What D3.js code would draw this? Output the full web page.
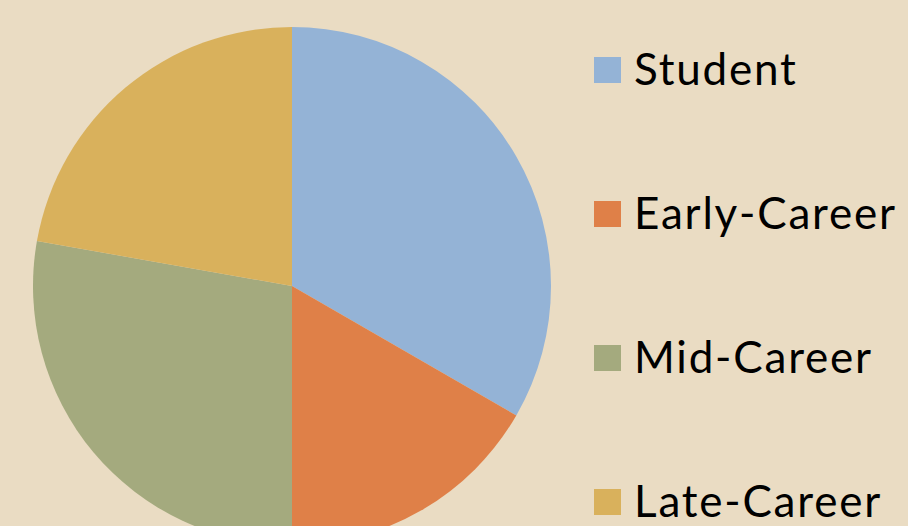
<!DOCTYPE html>
<html>
<head>
<meta charset="utf-8">
<script src="https://cdn.jsdelivr.net/npm/d3@7"></script>
<style>
  html, body { margin: 0; padding: 0; background: #EADCC3; }
  svg { display: block; }
</style>
</head>
<body>
<svg id="chart" width="908" height="526"></svg>
<script>
// Career stage breakdown
const categories = ["Student", "Early-Career", "Mid-Career", "Late-Career"];
const values = [12, 6, 10, 8];
const colors = ["#94B3D6", "#DF8048", "#A4AA7E", "#D9B15C"];

const svg = d3.select("#chart");
const width = 908, height = 526;

svg.append("rect").attr("width", width).attr("height", height).attr("fill", "#EADCC3");

const cx = 292, cy = 286, radius = 259;

const data = categories.map((c, i) => ({ name: c, value: values[i] }));
const pie = d3.pie().value(d => d.value).sort(null);
const arc = d3.arc().innerRadius(0).outerRadius(radius);
const color = d3.scaleOrdinal().domain(categories).range(colors);

svg.append("g")
  .attr("transform", `translate(${cx},${cy})`)
  .selectAll("path")
  .data(pie(data))
  .join("path")
  .attr("d", arc)
  .attr("fill", d => color(d.data.name));

// Legend
const legendY = d3.scalePoint().domain(categories).range([70, 502]);
const legend = svg.append("g")
  .selectAll("g")
  .data(categories)
  .join("g")
  .attr("transform", d => `translate(594,${legendY(d)})`);

legend.append("rect")
  .attr("x", 0).attr("y", -13)
  .attr("width", 27).attr("height", 26)
  .attr("fill", d => color(d));

legend.append("text")
  .attr("x", 40)
  .attr("y", 15)
  .attr("font-family", "Lato, 'Noto Sans', sans-serif")
  .attr("font-size", 44)
  .attr("letter-spacing", 1.8)
  .attr("fill", "#000")
  .text(d => d);
</script>
</body>
</html>
